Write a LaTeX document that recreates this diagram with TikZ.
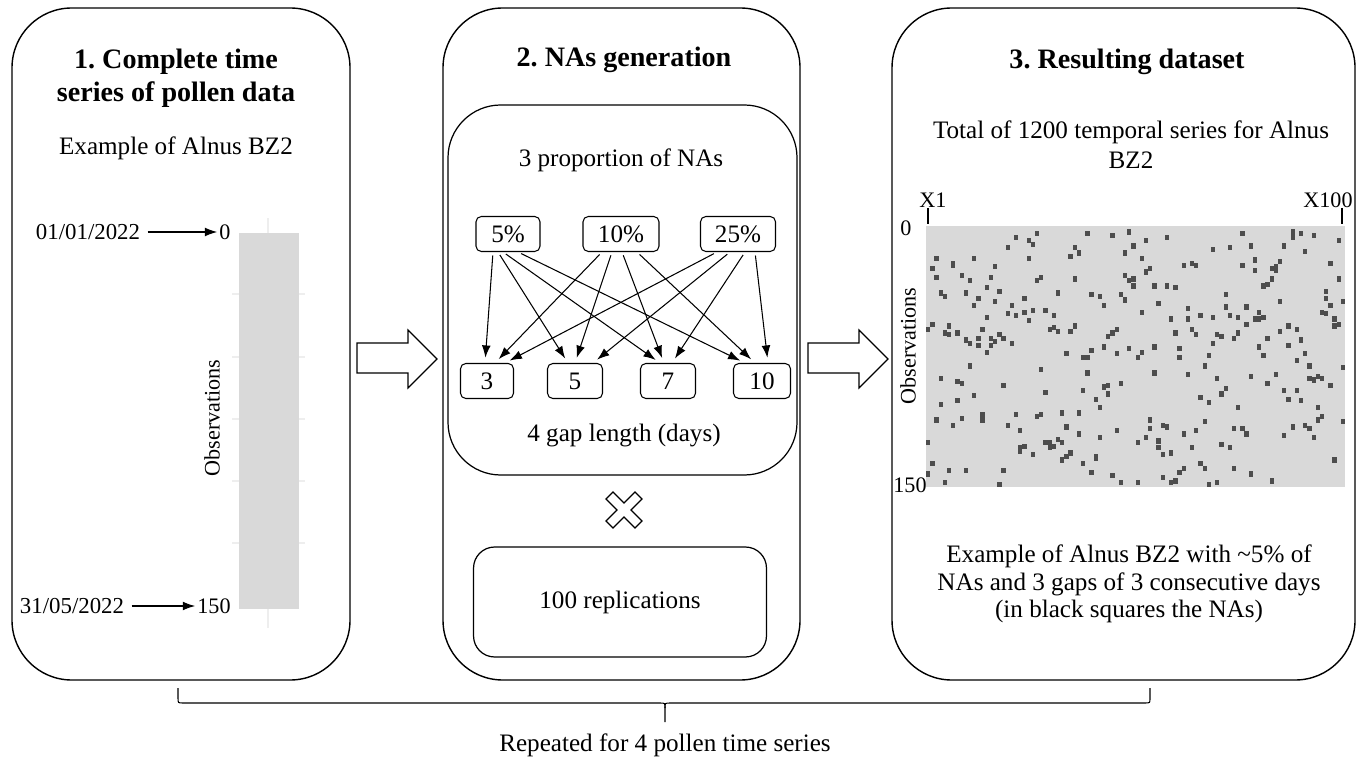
\documentclass[tikz,border=0pt]{standalone}
\usepackage{fontspec}
\setmainfont{Liberation Serif}
\frenchspacing
\usetikzlibrary{calc,arrows.meta}
\definecolor{bargray}{HTML}{D9D9D9}
\definecolor{nagray}{HTML}{4D4D4D}
\definecolor{gridgray}{HTML}{EEEEEE}

\tikzset{
  panel/.style={draw, line width=0.8pt, rounded corners=34pt},
  ttl/.style={font=\fontsize{16}{18.7}\selectfont\bfseries, align=center},
  txt/.style={font=\fontsize{14.3}{17}\selectfont, align=center},
  lbl/.style={font=\fontsize{13}{15}\selectfont, inner sep=4pt},
  tick/.style={font=\fontsize{12.6}{15}\selectfont, inner sep=1pt},
  pbox/.style={draw, rounded corners=3pt, line width=0.6pt, minimum height=0.7cm,
    inner sep=0pt, font=\fontsize{14.3}{17}\selectfont},
  fat/.style={draw, line width=0.7pt, fill=white}
}

\begin{document}
\begin{tikzpicture}[>={Latex[length=7pt,width=5pt]}, x=0.02cm, y=-0.02cm, line width=0.6pt]
\useasboundingbox (0,0) rectangle (1364,759);

% the three steps
\draw[panel] (12,8) rectangle (350,680);
\draw[panel] (443,8) rectangle (800,680);
\draw[panel, line width=0.7pt, rounded corners=30pt] (448,105) rectangle (797,475);
\draw[panel] (892,8) rectangle (1355,680);

% step 1
\node[ttl] (ttlA) at (176,78) {1. Complete time\\series of pollen data};
\node[txt] (exA) at (176,148) {Example of Alnus BZ2};
\draw[gridgray] (268,218) -- (268,628);
\foreach \y in {294,357,419,481,543}
  \draw[gridgray] (232,\y) -- (305,\y);
\fill[bargray] (239,233) rectangle (299,609);
\node[lbl] (dStart) at (88,232) {01/01/2022};
\node[tick] (tZero) at (225,232) {0};
\draw[->] (dStart) -- (tZero);
\node[lbl] (dEnd) at (72,606) {31/05/2022};
\node[tick] (tEnd) at (214,606) {150};
\draw[->] (dEnd) -- (tEnd);
\node[tick, rotate=90] (obsA) at (212,418) {Observations};

% step 2
\node[ttl] (ttlB) at (624,60) {2. NAs generation};
\node[txt] (propB) at (621,160) {3 proportion of NAs};
\node[pbox, minimum width=1.28cm] (p5) at (508,234) {5\%};
\node[pbox, minimum width=1.52cm] (p10) at (621,234) {10\%};
\node[pbox, minimum width=1.5cm] (p25) at (738,234) {25\%};
\node[pbox, minimum width=1.06cm] (g3) at (487,381) {3};
\node[pbox, minimum width=1.1cm] (g5) at (575,381) {5};
\node[pbox, minimum width=1.1cm] (g7) at (668,381) {7};
\node[pbox, minimum width=1.14cm] (g10) at (762,381) {10};
\foreach \s/\t/\a/\b in {p5/g3/-15/-2, p5/g5/-10/-7, p5/g7/-5/-8, p5/g10/10/-17,
    p10/g3/-19/8, p10/g5/-9/0, p10/g7/1/-4, p10/g10/16/-7,
    p25/g3/-21/18, p25/g5/-8/18, p25/g7/7/4, p25/g10/17/6}
  \draw[->, shorten <=2pt, shorten >=3pt] ([shift={(\a,0)}]\s.south) -- ([shift={(\b,0)}]\t.north);
\node[txt] (gapB) at (624,435) {4 gap length (days)};
\draw[fat] (624,510) ++(-18,-11) -- ++(7,-7) -- ++(11,11) -- ++(11,-11) -- ++(7,7)
  -- ++(-11,11) -- ++(11,11) -- ++(-7,7) -- ++(-11,-11) -- ++(-11,11) -- ++(-7,-7)
  -- ++(11,-11) -- cycle;
\node[txt, draw, rounded corners=12pt, line width=0.7pt, minimum width=5.86cm,
  minimum height=2.2cm] (reps) at (620,602) {100 replications};

% step 3
\node[ttl] (ttlC) at (1127,62) {3. Resulting dataset};
\node[txt] (totC) at (1131,145) {Total of 1200 temporal series for Alnus\\BZ2};
\fill[bargray] (926,226) rectangle (1345,487);
\pgfmathsetseed{2022}
\foreach \c in {0,...,99}
  \foreach \g in {1,2,3}{
    \pgfmathsetmacro\r{random(0,147)}
    \fill[nagray] ({926+\c*4.19},{226+\r*1.74}) rectangle ++(4.3,5.22);
  }
\draw[line width=0.8pt] (928,208) -- (928,224);
\draw[line width=0.8pt] (1342,208) -- (1342,224);
\node[tick] (xFirst) at (933,200) {X1};
\node[tick] (xLast) at (1328,200) {X100};
\node[tick] (yZero) at (906,228) {0};
\node[tick] (yEnd) at (910,485) {150};
\node[tick, rotate=90] (obsC) at (908,346) {Observations};
\node[txt, font=\fontsize{14.3}{15.5}\selectfont] (exC) at (1129,584)
  {Example of Alnus BZ2 with \textasciitilde5\% of\\NAs and 3 gaps of 3 consecutive days\\(in black squares the NAs)};

% arrows between steps
\foreach \x in {357,808}
  \draw[fat] (\x,343) -- ++(51,0) -- ++(0,-13) -- ++(29,29) -- ++(-29,29) -- ++(0,-15)
    -- ++(-51,0) -- cycle;

% brace
\draw (178,688) -- (178,698) .. controls (178,703) .. (183,703) -- (660,703)
  .. controls (665,703) .. (665,708) -- (665,722);
\draw (665,708) .. controls (665,703) .. (670,703) -- (1145,703)
  .. controls (1150,703) .. (1150,698) -- (1150,688);
\node[txt] (rep) at (665,745) {Repeated for 4 pollen time series};
\end{tikzpicture}
\end{document}
